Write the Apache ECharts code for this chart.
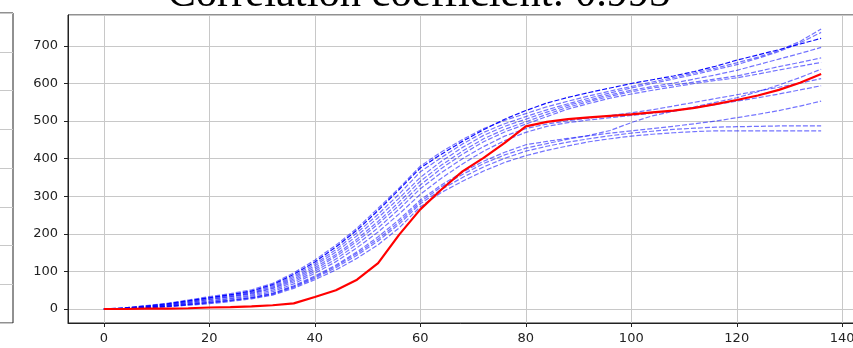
<!DOCTYPE html>
<html><head><meta charset="utf-8">
<script src="https://cdn.jsdelivr.net/npm/echarts@6/dist/echarts.min.js"></script>
<style>html,body{margin:0;padding:0;background:#fff}#c{width:853px;height:348px}</style>
</head><body><div id="c"></div>
<script>
const titleText = "Correlation coefficient: 0.993";
const xs = [0,4,8,12,16,20,24,28,32,36,40,44,48,52,56,60,64,68,72,76,80,84,88,92,96,100,104,108,112,116,120,124,128,132,136];
const xTicks = [0,20,40,60,80,100,120,140];
const yTicks = [0,100,200,300,400,500,600,700];

const actual = [0,0,1,1,2,4,5,7,10,15,32,50,78,122,198,265,318,366,402,442,486,498,505,510,514,518,523,528,535,545,556,568,583,602,625];

const pred1 = [0,3,8,14,22,30,38,48,65,92,125,165,210,262,318,375,412,446,477,505,528,548,563,576,588,600,610,620,632,646,662,676,690,705,720];
const pred2 = [0,3,9,15,24,33,41,51,68,96,130,170,215,268,322,380,418,451,480,502,520,538,553,567,580,592,604,616,628,641,655,670,688,712,745];
const pred3 = [0,2,7,13,21,30,37,46,62,88,120,158,203,252,306,365,403,439,470,493,512,530,546,561,575,588,600,612,624,637,650,667,685,708,736];
const pred4 = [0,2,6,12,20,28,35,44,59,84,115,152,195,243,295,350,393,430,462,486,505,524,542,556,570,582,592,601,612,623,635,650,665,680,696];
const pred5 = [0,2,6,11,18,26,33,42,56,80,110,145,186,233,285,340,383,420,453,478,498,518,537,552,566,578,588,596,604,612,620,632,645,656,668];
const pred6 = [0,2,5,10,17,25,32,40,54,76,105,140,180,226,276,330,374,412,445,471,492,512,532,547,561,572,582,591,600,608,615,625,636,646,656];
const pred7 = [0,1,5,9,15,22,29,37,50,72,100,133,172,216,266,320,363,400,432,460,480,492,501,508,515,522,530,540,550,560,570,580,590,601,613];
const pred8 = [0,1,4,8,14,20,27,34,46,67,95,126,163,205,253,305,348,386,420,448,470,486,496,503,509,515,521,527,535,544,553,562,572,583,594];
const pred9 = [0,1,4,7,12,18,24,31,42,62,88,117,152,192,238,290,330,364,393,417,437,446,454,461,468,474,480,486,493,500,509,518,528,540,553];
const pred10 = [0,1,3,6,11,16,22,29,39,58,82,110,143,181,226,280,318,350,378,401,420,433,444,453,461,468,473,478,481,484,485,486,487,487,487];
const pred11 = [0,1,3,6,10,14,20,27,37,55,78,104,135,171,216,272,310,340,367,390,408,422,434,445,453,460,465,469,472,474,474,474,474,474,474];
const pred12 = [0,1,4,7,12,17,23,30,41,60,85,114,148,186,232,285,325,358,387,410,428,440,452,462,475,496,514,526,538,550,562,578,596,616,638];

const preds = [pred2,pred3,pred4,pred5,pred6,pred7,pred8,pred9,pred10,pred11,pred12,pred1];

function pairs(v){ return xs.map((x,i)=>[x,v[i]]); }

const font = 'DejaVu Sans';
const series = [];
preds.forEach((p,i)=>{
  series.push({
    type:'line', xAxisIndex:0, yAxisIndex:0, data:pairs(p), showSymbol:false, silent:true,
    lineStyle:{color:'#0000ff', width:1.2, type:[5,2], opacity: (i===preds.length-1)?0.95:0.55},
    z:2
  });
});
series.push({type:'line', xAxisIndex:0, yAxisIndex:0, data:pairs(actual), showSymbol:false, silent:true,
  lineStyle:{color:'#ff0000', width:2.2}, z:3});

const chart = echarts.init(document.getElementById('c'), null, {renderer:'canvas'});
chart.setOption({
  animation:false,
  backgroundColor:'#ffffff',
  title:{text:titleText, left:414, textAlign:'center', top:-32,
    textStyle:{fontFamily:'Liberation Serif', fontSize:42.5, fontWeight:'normal', color:'#000'}},
  grid:[
    {left:68, top:15, width:789, height:308, show:true, borderColor:'#222', borderWidth:1, backgroundColor:'transparent', outerBoundsMode:'none', containLabel:false},
    {left:-100, top:13, width:113, height:310, show:true, borderColor:'#222', borderWidth:1, backgroundColor:'transparent', outerBoundsMode:'none', containLabel:false}
  ],
  xAxis:[
    {type:'value', gridIndex:0, min:-6.8, max:142.8, splitNumber:7,
     axisLine:{show:true, onZero:false, lineStyle:{color:'#222'}},
     axisTick:{show:true, length:4, lineStyle:{color:'#222'}},
     axisLabel:{show:true, margin:9, fontFamily:font, fontSize:13, color:'#222', showMinLabel:false, showMaxLabel:false,
       formatter:(v)=> xTicks.includes(v) ? String(v) : ''},
     splitLine:{show:true, lineStyle:{color:'#c8c8c8', width:1}}},
    {type:'value', gridIndex:1, min:0, max:1, show:false}
  ],
  yAxis:[
    {type:'value', gridIndex:0, min:-37.25, max:782.25, splitNumber:8,
     axisLine:{show:true, onZero:false, lineStyle:{color:'#222'}},
     axisTick:{show:true, length:4, lineStyle:{color:'#222'}},
     axisLabel:{show:true, margin:10, fontFamily:font, fontSize:13, color:'#222', showMinLabel:false, showMaxLabel:false,
       formatter:(v)=> yTicks.includes(v) ? String(v) : ''},
     splitLine:{show:true, lineStyle:{color:'#c8c8c8', width:1}}},
    {type:'value', gridIndex:1, min:0, max:8, interval:1,
     axisLine:{show:false}, axisTick:{show:false}, axisLabel:{show:false},
     splitLine:{show:true, lineStyle:{color:'#c8c8c8', width:1}}}
  ],
  series:series
});
</script></body></html>
